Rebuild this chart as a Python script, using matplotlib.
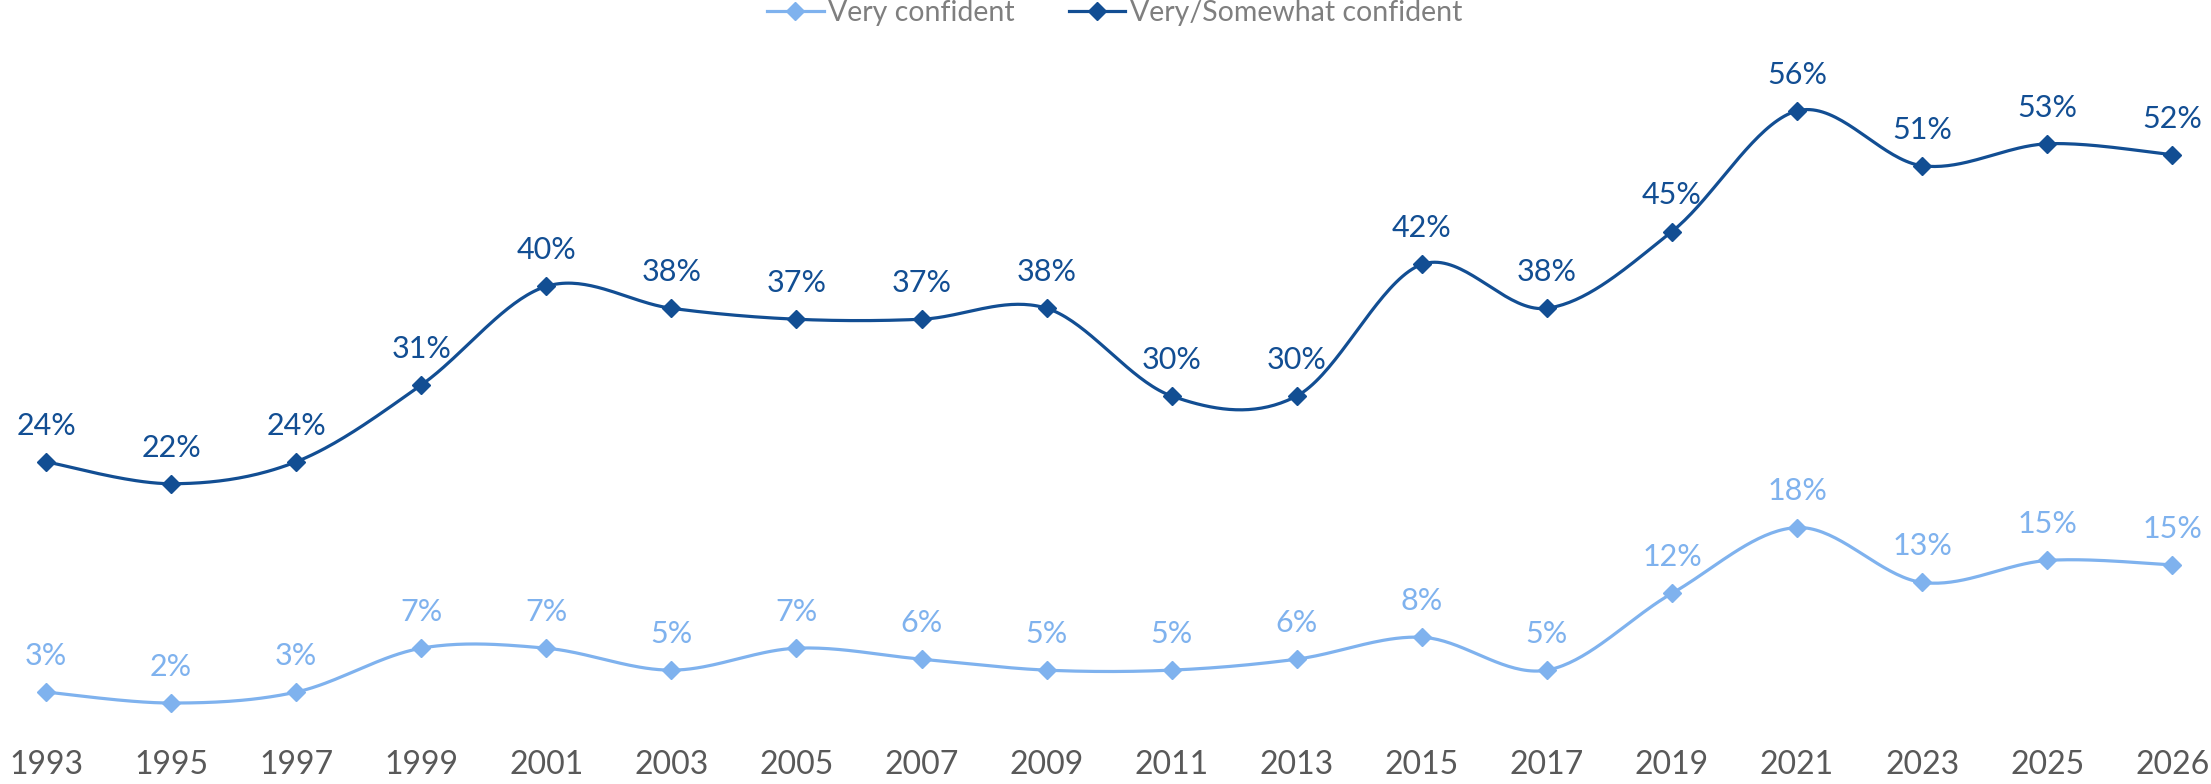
import numpy as np
import matplotlib
matplotlib.use("Agg")
import matplotlib.pyplot as plt
from matplotlib.lines import Line2D

years = ["1993", "1995", "1997", "1999", "2001", "2003", "2005", "2007", "2009",
         "2011", "2013", "2015", "2017", "2019", "2021", "2023", "2025", "2026"]
very_confident = [3, 2, 3, 7, 7, 5, 7, 6, 5, 5, 6, 8, 5, 12, 18, 13, 15, 14.6]
very_somewhat = [24, 22, 24, 31, 40, 38, 37, 37, 38, 30, 30, 42, 38, 45, 56, 51, 53, 52]

LIGHT = "#7FB2EE"
DARK = "#124E93"
plt.rcParams['font.family'] = ['Lato', 'DejaVu Sans']


def smooth(xs, ys, n=40):
    xs = np.asarray(xs, float)
    ys = np.asarray(ys, float)
    px, py = [], []
    m = len(xs)
    for i in range(m - 1):
        p0 = (xs[max(i - 1, 0)], ys[max(i - 1, 0)])
        p1 = (xs[i], ys[i])
        p2 = (xs[i + 1], ys[i + 1])
        p3 = (xs[min(i + 2, m - 1)], ys[min(i + 2, m - 1)])
        c1 = (p1[0] + (p2[0] - p0[0]) / 6, p1[1] + (p2[1] - p0[1]) / 6)
        c2 = (p2[0] - (p3[0] - p1[0]) / 6, p2[1] - (p3[1] - p1[1]) / 6)
        t = np.linspace(0, 1, n)
        bx = (1 - t) ** 3 * p1[0] + 3 * (1 - t) ** 2 * t * c1[0] + 3 * (1 - t) * t ** 2 * c2[0] + t ** 3 * p2[0]
        by = (1 - t) ** 3 * p1[1] + 3 * (1 - t) ** 2 * t * c1[1] + 3 * (1 - t) * t ** 2 * c2[1] + t ** 3 * p2[1]
        px.extend(bx)
        py.extend(by)
    return px, py


fig = plt.figure(figsize=(22.11, 7.84), dpi=100)
ax = fig.add_axes([0, 0.0753, 1, 0.8392])
x = np.arange(len(years))

for vals, col in [(very_confident, LIGHT), (very_somewhat, DARK)]:
    sx, sy = smooth(x, vals)
    ax.plot(sx, sy, color=col, lw=2.3, zorder=2)
    ax.plot(x, vals, linestyle='none', marker='D', ms=9, color=col, zorder=3)
    for xi, v in zip(x, vals):
        ax.annotate(f"{v:.0f}%", (xi, v), xytext=(0, 26), textcoords='offset points',
                    ha='center', va='center', fontsize=22, color=col)

ax.set_xlim(-0.368, 17.31)
ax.set_ylim(0, 60)
ax.set_xticks(x)
ax.set_xticklabels(years, fontsize=23, color="#595959")
ax.tick_params(axis='x', length=0, pad=18)
ax.set_yticks([])
for s in ax.spines.values():
    s.set_visible(False)

handles = [Line2D([0], [0], color=LIGHT, lw=2.3, marker='D', ms=9),
           Line2D([0], [0], color=DARK, lw=2.3, marker='D', ms=9)]
leg = fig.legend(handles, ["Very confident", "Very/Somewhat confident"],
                 loc='center', bbox_to_anchor=(0.504, 0.984), ncol=2, frameon=False,
                 fontsize=20.5, handlelength=2.0, handletextpad=0.15, columnspacing=1.9)
for t in leg.get_texts():
    t.set_color("#7F7F7F")

fig.savefig("out.png", dpi=100)
